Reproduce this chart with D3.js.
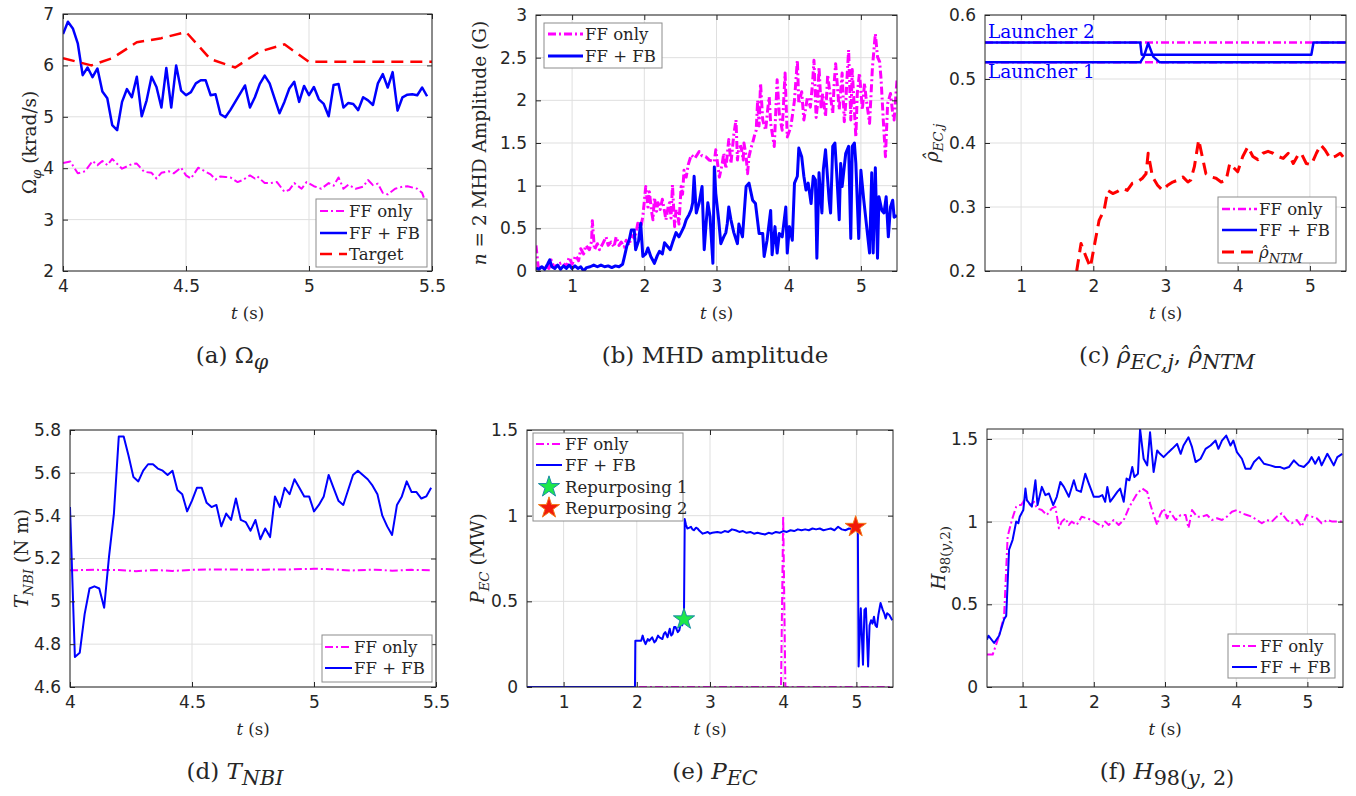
<!DOCTYPE html>
<meta charset="utf-8">
<style>
body { margin: 0; background: #fff; }
text { fill: #262626; }
.tick text { font-family: "DejaVu Sans", Arial, sans-serif; font-size: 17px; fill: #262626; }
.tex { font-family: "DejaVu Serif", "Liberation Serif", serif; }
</style>
<svg width="1356" height="796"></svg>
<script src="https://d3js.org/d3.v7.min.js"></script>
<script>

// ---- data ----
var omegaFB = [6.61,6.85,6.72,6.43,5.81,5.96,5.77,5.94,5.49,5.36,4.84,4.74,5.29,5.54,5.38,5.78,5.01,5.32,5.78,5.58,
  5.18,5.95,5.18,6.0,5.51,5.42,5.48,5.65,5.71,5.71,5.42,5.44,5.05,4.99,5.13,5.29,5.45,5.61,5.18,5.38,
  5.64,5.8,5.65,5.36,5.07,5.29,5.55,5.68,5.29,5.6,5.42,5.58,5.34,5.25,5.01,5.62,5.64,5.18,5.27,5.25,
  5.13,5.38,5.32,5.23,5.65,5.83,5.57,5.87,5.12,5.38,5.43,5.44,5.42,5.57,5.40];
var omegaFF = [[4.0,4.10],[4.03,4.13],[4.06,3.90],[4.09,3.94],[4.12,4.14],[4.14,4.06],[4.16,4.14],[4.18,4.06],[4.2,4.18],[4.24,3.99],[4.28,4.08],[4.3,4.09],[4.33,3.93],[4.36,3.91],[4.38,3.80],[4.4,3.91],[4.43,3.94],[4.45,3.90],[4.48,4.01],[4.5,3.86],[4.52,3.80],[4.55,4.01],[4.58,3.93],[4.6,3.88],[4.62,3.78],[4.64,3.84],[4.66,3.83],[4.68,3.82],[4.71,3.73],[4.73,3.77],[4.76,3.86],[4.78,3.80],[4.79,3.84],[4.82,3.71],[4.84,3.71],[4.87,3.73],[4.9,3.54],[4.92,3.58],[4.94,3.71],[4.97,3.60],[4.99,3.73],[5.02,3.65],[5.05,3.60],[5.08,3.71],[5.1,3.66],[5.12,3.82],[5.14,3.60],[5.16,3.68],[5.19,3.60],[5.22,3.64],[5.24,3.77],[5.26,3.67],[5.28,3.70],[5.3,3.52],[5.32,3.49],[5.35,3.60],[5.38,3.64],[5.4,3.65],[5.44,3.60],[5.46,3.52],[5.47,3.38]];
var omegaTarget = [[4.0,6.14],[4.115,6.0],[4.2,6.14],[4.3,6.45],[4.4,6.53],[4.5,6.65],[4.6,6.12],[4.7,5.96],[4.8,6.27],[4.9,6.41],[5.0,6.07],[5.5,6.07]];

var mhdFF = [[0.5,0.30],[0.53,0.05],[0.58,0.02],[0.63,0.06],[0.68,0.03],[0.71,0.13],[0.75,0.04],[0.8,0.08],[0.87,0.10],[0.92,0.05],[0.96,0.16],[1.0,0.08],[1.05,0.18],[1.09,0.12],[1.12,0.26],[1.16,0.2],[1.19,0.30],[1.24,0.25],[1.27,0.35],[1.28,0.59],[1.31,0.25],[1.35,0.32],[1.38,0.25],[1.43,0.33],[1.47,0.40],[1.5,0.3],[1.54,0.34],[1.58,0.28],[1.61,0.40],[1.65,0.3],[1.68,0.34],[1.72,0.28],[1.75,0.36],[1.79,0.3],[1.82,0.42],[1.87,0.38],[1.91,0.56],[1.95,0.5],[1.98,0.64],[2.02,0.99],[2.05,0.75],[2.07,0.93],[2.1,0.7],[2.12,0.6],[2.14,0.86],[2.17,0.7],[2.19,0.8],[2.22,0.72],[2.25,0.84],[2.28,0.7],[2.30,0.6],[2.33,0.75],[2.35,0.8],[2.37,0.62],[2.39,1.01],[2.42,0.52],[2.44,0.72],[2.46,0.68],[2.48,0.55],[2.51,0.99],[2.53,0.9],[2.55,1.18],[2.58,1.1],[2.61,1.25],[2.65,1.36],[2.7,1.32],[2.76,1.4],[2.8,1.35],[2.85,1.34],[2.9,1.3],[2.97,1.28],[2.99,1.42],[3.04,1.1],[3.08,1.26],[3.1,1.38],[3.13,1.2],[3.17,1.54],[3.2,1.26],[3.24,1.6],[3.27,1.77],[3.29,1.3],[3.31,1.45],[3.34,1.46],[3.37,1.3],[3.38,1.5],[3.41,1.35],[3.43,1.14],[3.45,1.34],[3.48,1.45],[3.5,1.5],[3.53,1.6],[3.55,1.65],[3.57,2.0],[3.59,1.7],[3.61,2.2],[3.64,1.77],[3.68,1.65],[3.71,1.9],[3.73,2.04],[3.75,1.73],[3.8,1.46],[3.84,2.24],[3.87,1.84],[3.91,1.65],[3.95,2.32],[3.98,1.57],[4.03,1.69],[4.08,2.0],[4.12,2.47],[4.14,1.96],[4.18,2.1],[4.21,1.77],[4.26,2.04],[4.3,1.92],[4.33,2.2],[4.35,2.47],[4.38,1.8],[4.4,1.96],[4.42,2.39],[4.45,1.9],[4.47,2.08],[4.51,1.81],[4.54,2.3],[4.56,2.16],[4.61,1.85],[4.63,2.2],[4.65,2.43],[4.7,1.89],[4.72,2.1],[4.74,2.32],[4.77,1.75],[4.79,1.96],[4.81,2.3],[4.83,2.59],[4.86,1.77],[4.88,2.36],[4.93,1.57],[4.95,2.08],[4.98,2.32],[5.02,1.89],[5.05,2.2],[5.07,2.04],[5.12,1.73],[5.16,2.39],[5.2,2.78],[5.23,2.51],[5.26,2.45],[5.28,2.24],[5.31,1.77],[5.34,1.34],[5.37,1.96],[5.41,2.08],[5.44,1.85],[5.46,1.77],[5.5,2.24]];
var mhdFB = [[0.5,0.035],[0.54,0.02],[0.58,0.05],[0.62,0.02],[0.66,0.08],[0.69,0.13],[0.72,0.05],[0.76,0.03],[0.8,0.07],[0.84,0.02],[0.88,0.06],[0.92,0.03],[0.96,0.07],[1.0,0.03],[1.04,0.06],[1.08,0.03],[1.12,0.05],[1.16,0.0],[1.2,0.04],[1.25,0.05],[1.3,0.07],[1.35,0.05],[1.4,0.07],[1.45,0.05],[1.5,0.06],[1.55,0.04],[1.6,0.06],[1.65,0.05],[1.7,0.08],[1.72,0.15],[1.76,0.3],[1.79,0.36],[1.82,0.48],[1.86,0.48],[1.88,0.25],[1.92,0.35],[1.95,0.56],[1.98,0.17],[2.02,0.2],[2.05,0.27],[2.09,0.17],[2.14,0.09],[2.18,0.18],[2.21,0.23],[2.25,0.2],[2.28,0.33],[2.32,0.29],[2.36,0.25],[2.39,0.33],[2.44,0.45],[2.48,0.4],[2.51,0.45],[2.55,0.52],[2.58,0.6],[2.62,0.66],[2.65,0.72],[2.67,0.8],[2.69,1.11],[2.72,0.68],[2.76,0.8],[2.8,0.99],[2.83,0.25],[2.86,0.6],[2.88,0.8],[2.91,0.64],[2.95,0.09],[2.97,1.22],[2.99,0.91],[3.03,0.6],[3.06,0.32],[3.1,0.4],[3.13,0.45],[3.15,0.56],[3.17,0.75],[3.2,0.6],[3.24,0.45],[3.29,0.32],[3.31,0.55],[3.36,0.4],[3.41,0.99],[3.45,1.03],[3.5,0.83],[3.54,0.79],[3.59,0.44],[3.64,0.44],[3.66,0.17],[3.7,0.36],[3.75,0.71],[3.77,0.19],[3.81,0.52],[3.84,0.21],[3.87,0.44],[3.91,0.4],[3.96,0.75],[3.98,0.21],[4.01,0.52],[4.05,0.36],[4.08,1.03],[4.12,1.11],[4.14,1.44],[4.18,1.34],[4.21,1.11],[4.24,0.95],[4.27,1.03],[4.31,0.79],[4.34,1.11],[4.37,1.07],[4.39,0.15],[4.42,1.15],[4.46,0.68],[4.48,1.19],[4.51,1.42],[4.56,0.83],[4.58,0.68],[4.61,1.46],[4.64,1.5],[4.67,1.07],[4.7,0.6],[4.72,1.26],[4.74,0.99],[4.79,1.38],[4.83,1.46],[4.86,0.38],[4.88,1.46],[4.91,1.5],[4.93,1.26],[4.97,0.38],[5.0,1.18],[5.04,0.83],[5.09,0.44],[5.12,0.21],[5.15,1.15],[5.17,0.21],[5.2,1.21],[5.23,0.15],[5.25,0.87],[5.29,0.71],[5.32,0.68],[5.35,0.87],[5.38,0.4],[5.41,0.75],[5.44,0.83],[5.46,0.63],[5.5,0.65]];

var launcher2FF = [[0.5,0.557],[5.5,0.557]];
var launcher1FF = [[0.5,0.526],[5.5,0.526]];
var launcher2FB = [[0.5,0.557],[2.65,0.557],[2.67,0.538],[5.02,0.538],[5.05,0.557],[5.5,0.557]];
var launcher1FB = [[0.5,0.526],[2.65,0.526],[2.7,0.535],[2.76,0.556],[2.83,0.535],[2.92,0.526],[5.5,0.526]];
var rhoNTM = [[1.77,0.2],[1.83,0.243],[1.9,0.222],[1.96,0.206],[2.01,0.237],[2.08,0.279],[2.15,0.295],[2.2,0.326],[2.27,0.321],[2.33,0.324],[2.4,0.329],[2.47,0.326],[2.54,0.337],[2.61,0.339],[2.68,0.345],[2.73,0.352],[2.76,0.384],[2.82,0.347],[2.89,0.334],[2.96,0.326],[3.03,0.334],[3.1,0.339],[3.17,0.342],[3.24,0.347],[3.31,0.339],[3.35,0.342],[3.4,0.363],[3.46,0.405],[3.52,0.373],[3.56,0.352],[3.63,0.347],[3.7,0.345],[3.77,0.339],[3.84,0.342],[3.89,0.368],[3.93,0.363],[4.0,0.355],[4.07,0.379],[4.14,0.394],[4.21,0.379],[4.28,0.374],[4.35,0.384],[4.42,0.387],[4.49,0.384],[4.56,0.379],[4.63,0.376],[4.7,0.384],[4.77,0.368],[4.84,0.382],[4.88,0.384],[4.95,0.368],[5.02,0.366],[5.09,0.384],[5.15,0.397],[5.21,0.389],[5.28,0.376],[5.35,0.379],[5.42,0.384],[5.51,0.371]];

var torqueFB = [5.44,4.74,4.76,4.94,5.06,5.07,5.06,4.97,5.21,5.41,5.77,5.77,5.68,5.58,5.56,5.61,5.64,5.64,5.62,5.61,
  5.59,5.61,5.52,5.50,5.42,5.47,5.53,5.53,5.46,5.44,5.45,5.35,5.41,5.38,5.48,5.38,5.37,5.33,5.38,5.29,
  5.34,5.30,5.49,5.44,5.53,5.50,5.57,5.53,5.49,5.49,5.42,5.45,5.49,5.59,5.53,5.47,5.45,5.52,5.59,5.61,
  5.59,5.57,5.54,5.50,5.40,5.35,5.31,5.45,5.49,5.56,5.51,5.51,5.48,5.49,5.53];
var torqueFF = [[4.0,5.145],[4.1,5.147],[4.2,5.146],[4.27,5.141],[4.35,5.146],[4.42,5.142],[4.5,5.147],[4.6,5.149],[4.7,5.148],[4.8,5.148],[4.9,5.149],[5.0,5.152],[5.05,5.151],[5.15,5.144],[5.25,5.148],[5.32,5.143],[5.4,5.147],[5.48,5.145]];

var pecFB = [[0.5,0],[1.975,0],[1.98,0.27],[2.02,0.27],[2.06,0.27],[2.08,0.30],[2.1,0.27],[2.12,0.25],[2.15,0.28],[2.17,0.27],[2.21,0.29],[2.24,0.26],[2.26,0.27],[2.29,0.30],[2.31,0.29],[2.35,0.28],[2.37,0.31],[2.39,0.32],[2.42,0.29],[2.45,0.34],[2.47,0.30],[2.49,0.31],[2.51,0.35],[2.53,0.35],[2.56,0.32],[2.58,0.33],[2.6,0.37],[2.62,0.36],[2.645,0.45],[2.655,0.98],[2.67,0.95],[2.69,0.925],[2.72,0.93],[2.74,0.935],[2.76,0.92],[2.78,0.915],[2.81,0.93],[2.83,0.925],[2.86,0.91],[2.9,0.895],[2.94,0.9],[2.97,0.905],[3.0,0.895],[3.03,0.9],[3.1,0.905],[3.15,0.9],[3.2,0.91],[3.25,0.905],[3.3,0.92],[3.35,0.915],[3.4,0.905],[3.45,0.91],[3.5,0.9],[3.55,0.905],[3.6,0.895],[3.65,0.9],[3.7,0.895],[3.75,0.89],[3.8,0.9],[3.85,0.895],[3.9,0.905],[3.95,0.9],[4.0,0.91],[4.05,0.905],[4.1,0.915],[4.15,0.91],[4.2,0.92],[4.25,0.915],[4.3,0.92],[4.35,0.915],[4.4,0.925],[4.45,0.92],[4.5,0.925],[4.55,0.915],[4.6,0.92],[4.65,0.925],[4.7,0.915],[4.75,0.935],[4.8,0.92],[4.85,0.915],[4.9,0.925],[4.95,0.92],[5.0,0.935],[5.02,0.9],[5.03,0.12],[5.06,0.46],[5.09,0.13],[5.11,0.45],[5.13,0.46],[5.16,0.12],[5.18,0.36],[5.2,0.39],[5.22,0.37],[5.24,0.41],[5.26,0.36],[5.28,0.35],[5.3,0.42],[5.33,0.49],[5.36,0.45],[5.38,0.43],[5.4,0.40],[5.42,0.43],[5.45,0.42],[5.49,0.39]];
var pecFF = [[0.5,0],[3.97,0],[4.0,1.0],[4.03,0],[5.5,0]];
var repurpose1 = [2.645, 0.395];
var repurpose2 = [4.99, 0.935];

var h98FB = [[0.5,0.286],[0.52,0.31],[0.6,0.266],[0.67,0.31],[0.74,0.41],[0.77,0.43],[0.81,0.83],[0.86,0.89],[0.91,1.0],[0.94,0.99],[0.96,1.03],[1.01,1.07],[1.04,1.2],[1.06,1.13],[1.13,1.09],[1.18,1.25],[1.21,1.10],[1.27,1.21],[1.32,1.16],[1.37,1.17],[1.43,1.10],[1.48,1.15],[1.53,1.24],[1.58,1.21],[1.65,1.15],[1.72,1.25],[1.76,1.19],[1.82,1.18],[1.88,1.29],[1.93,1.23],[2.0,1.15],[2.07,1.15],[2.12,1.16],[2.16,1.12],[2.19,1.21],[2.23,1.12],[2.28,1.15],[2.33,1.18],[2.37,1.20],[2.42,1.12],[2.46,1.26],[2.5,1.25],[2.54,1.33],[2.57,1.27],[2.62,1.29],[2.65,1.56],[2.7,1.38],[2.75,1.34],[2.79,1.54],[2.84,1.30],[2.89,1.43],[2.93,1.41],[2.98,1.39],[3.05,1.42],[3.1,1.44],[3.17,1.47],[3.22,1.41],[3.26,1.46],[3.33,1.51],[3.38,1.45],[3.43,1.36],[3.5,1.38],[3.57,1.44],[3.64,1.46],[3.71,1.49],[3.75,1.44],[3.8,1.49],[3.86,1.52],[3.92,1.46],[3.96,1.49],[4.01,1.42],[4.08,1.38],[4.13,1.32],[4.2,1.32],[4.25,1.36],[4.32,1.39],[4.39,1.35],[4.48,1.34],[4.55,1.33],[4.62,1.33],[4.67,1.32],[4.74,1.33],[4.81,1.37],[4.88,1.34],[4.95,1.33],[5.02,1.36],[5.06,1.39],[5.11,1.35],[5.16,1.39],[5.2,1.34],[5.28,1.41],[5.32,1.38],[5.37,1.34],[5.42,1.39],[5.49,1.41]];
var h98FF = [[0.5,0.196],[0.58,0.196],[0.67,0.31],[0.74,0.43],[0.79,0.91],[0.85,1.01],[0.91,1.09],[0.94,1.10],[0.98,1.10],[1.04,1.14],[1.11,1.10],[1.16,1.12],[1.2,1.08],[1.27,1.07],[1.34,1.04],[1.41,1.08],[1.46,1.09],[1.51,0.96],[1.55,1.0],[1.6,1.02],[1.65,0.98],[1.69,1.0],[1.76,0.98],[1.83,1.03],[1.9,1.02],[1.97,1.01],[2.04,0.99],[2.12,0.97],[2.16,1.0],[2.21,0.98],[2.28,1.01],[2.35,0.98],[2.42,1.01],[2.49,1.08],[2.54,1.12],[2.61,1.17],[2.68,1.2],[2.75,1.18],[2.79,1.11],[2.84,1.04],[2.89,0.98],[2.93,1.04],[2.98,1.08],[3.03,1.02],[3.07,1.06],[3.15,1.01],[3.22,1.04],[3.29,1.04],[3.33,0.96],[3.38,1.07],[3.45,1.03],[3.52,1.03],[3.59,1.04],[3.66,1.01],[3.73,1.02],[3.8,1.01],[3.87,1.03],[3.94,1.06],[4.01,1.07],[4.08,1.05],[4.15,1.04],[4.22,1.03],[4.29,1.01],[4.36,0.99],[4.43,1.01],[4.5,1.0],[4.57,1.03],[4.64,1.05],[4.71,1.01],[4.78,0.99],[4.85,1.01],[4.92,0.97],[4.99,1.04],[5.06,1.03],[5.13,1.02],[5.2,0.99],[5.28,1.01],[5.35,1.0],[5.42,1.0],[5.49,1.0]];

var ticksA = [4, 4.5, 5, 5.5];
var ticksB = [1, 2, 3, 4, 5];

// time base for the regularly sampled series
var tFast = d3.range(75).map(function(i) { return 4 + i * 0.02; });
function zipT(vals) { return vals.map(function(v, i) { return [tFast[i], v]; }); }

var MAG = "#ff00ff", BLU = "#0000ff", RED = "#ff0000";
var DASHDOT = "8,3,2,3", DASH = "12,7";

var svg = d3.select("svg");

// rich text: parts [{t, i (italic), sub}]; subscript scale k
function rich(sel, parts, size, k) {
  var shift = 0;
  k = k || 0.72;
  parts.forEach(function(p) {
    var ts = sel.append("tspan").text(p.t);
    var want = p.sub ? size * 0.28 : 0;
    if (want !== shift) { ts.attr("dy", want - shift); shift = want; }
    if (p.i) ts.style("font-style", "italic");
    if (p.sub) ts.style("font-size", (size * k) + "px");
  });
  return sel;
}

var rhoHat = {t:"ρ\u0302", i:1};

var panels = [
  {x0:63, x1:432, y0:14, y1:271, xd:[4,5.5], yd:[2,7], xt:ticksA, yt:[2,3,4,5,6,7], yf:d3.format("d"),
   ylab:[{t:"Ω"},{t:"φ",i:1,sub:1},{t:" (krad/s)"}], ylx:36, cap:[{t:"(a) Ω"},{t:"φ",i:1,sub:1}], capx:232,
   series:[
     {d:omegaFF, c:MAG, w:2, dash:DASHDOT},
     {d:zipT(omegaFB), c:BLU, w:2.5},
     {d:omegaTarget, c:RED, w:2.5, dash:DASH}],
   leg:{x:316, y:199, w:111, h:68, rows:[211,233,254], lx:[320,347], tx:349, items:[
     {lab:[{t:"FF only"}], c:MAG, w:2, dash:DASHDOT},
     {lab:[{t:"FF + FB"}], c:BLU, w:2.5},
     {lab:[{t:"Target"}], c:RED, w:2.5, dash:DASH}]}},
  {x0:536, x1:897, y0:15, y1:271, xd:[0.5,5.5], yd:[0,3], xt:ticksB, yt:[0,0.5,1,1.5,2,2.5,3], yf:d3.format("~g"),
   ylab:[{t:"n",i:1},{t:" = 2 MHD Amplitude (G)"}], ylx:486, cap:[{t:"(b) MHD amplitude"}], capx:715,
   series:[
     {d:mhdFF, c:MAG, w:3, dash:DASHDOT},
     {d:mhdFB, c:BLU, w:3}],
   leg:{x:544, y:23, w:118, h:45, rows:[34,56], lx:[548,583], tx:585, items:[
     {lab:[{t:"FF only"}], c:MAG, w:3, dash:DASHDOT},
     {lab:[{t:"FF + FB"}], c:BLU, w:3}]}},
  {x0:985, x1:1346, y0:15, y1:271, xd:[0.5,5.5], yd:[0.2,0.6], xt:ticksB, yt:[0.2,0.3,0.4,0.5,0.6], yf:d3.format(".1f"),
   ylab:[rhoHat,{t:"EC,j",i:1,sub:1}], ylx:938, cap:[{t:"(c) "},rhoHat,{t:"EC,j",i:1,sub:1},{t:", "},rhoHat,{t:"NTM",i:1,sub:1}], capx:1167,
   series:[
     {d:launcher2FF, c:MAG, w:2.5, dash:DASHDOT},
     {d:launcher1FF, c:MAG, w:2.5, dash:DASHDOT},
     {d:launcher2FB, c:BLU, w:2.5},
     {d:launcher1FB, c:BLU, w:2.5},
     {d:rhoNTM, c:RED, w:3, dash:DASH}],
   notes:[{t:"Launcher 2", x:988, y:38}, {t:"Launcher 1", x:988, y:78}],
   leg:{x:1218, y:197, w:118, h:66, rows:[209,230,252], lx:[1222,1257], tx:1259, items:[
     {lab:[{t:"FF only"}], c:MAG, w:2.5, dash:DASHDOT},
     {lab:[{t:"FF + FB"}], c:BLU, w:2.5},
     {lab:[rhoHat,{t:"NTM",i:1,sub:1}], c:RED, w:3, dash:DASH}]}},
  {x0:70, x1:436, y0:430, y1:687, xd:[4,5.5], yd:[4.6,5.8], xt:ticksA, yt:[4.6,4.8,5,5.2,5.4,5.6,5.8], yf:d3.format("~g"),
   ylab:[{t:"T",i:1},{t:"NBI",i:1,sub:1},{t:" (N m)"}], ylx:28, cap:[{t:"(d) "},{t:"T",i:1},{t:"NBI",i:1,sub:1}], capx:235,
   series:[
     {d:torqueFF, c:MAG, w:2, dash:DASHDOT},
     {d:zipT(torqueFB), c:BLU, w:2}],
   leg:{x:322, y:635, w:110, h:47, rows:[647,668], lx:[325,352], tx:354, items:[
     {lab:[{t:"FF only"}], c:MAG, w:2, dash:DASHDOT},
     {lab:[{t:"FF + FB"}], c:BLU, w:2}]}},
  {x0:527, x1:893, y0:430, y1:687, xd:[0.5,5.5], yd:[0,1.5], xt:ticksB, yt:[0,0.5,1,1.5], yf:d3.format("~g"),
   ylab:[{t:"P",i:1},{t:"EC",i:1,sub:1},{t:" (MW)"}], ylx:484, cap:[{t:"(e) "},{t:"P",i:1},{t:"EC",i:1,sub:1}], capx:715,
   series:[
     {d:pecFF, c:MAG, w:2, dash:DASHDOT},
     {d:pecFB, c:BLU, w:2}],
   stars:[{p:repurpose1, fill:"#1ee84a", stroke:"#1c8ca8"}, {p:repurpose2, fill:"#f21a0a", stroke:"#f27a1a"}],
   leg:{x:533, y:433, w:150, h:88, rows:[444,465,487,508], lx:[536,562], tx:565, items:[
     {lab:[{t:"FF only"}], c:MAG, w:2, dash:DASHDOT},
     {lab:[{t:"FF + FB"}], c:BLU, w:2},
     {lab:[{t:"Repurposing 1"}], star:{fill:"#1ee84a", stroke:"#1c8ca8"}},
     {lab:[{t:"Repurposing 2"}], star:{fill:"#f21a0a", stroke:"#f27a1a"}}]}},
  {x0:987, x1:1343, y0:429, y1:687, xd:[0.5,5.5], yd:[0,1.56], xt:ticksB, yt:[0,0.5,1,1.5], yf:d3.format("~g"),
   ylab:[{t:"H",i:1},{t:"98(",sub:1},{t:"y",i:1,sub:1},{t:",2)",sub:1}], ylx:945, cap:[{t:"(f) "},{t:"H",i:1},{t:"98(",sub:1},{t:"y",i:1,sub:1},{t:", 2)",sub:1}], capx:1167,
   series:[
     {d:h98FF, c:MAG, w:2, dash:DASHDOT},
     {d:h98FB, c:BLU, w:2}],
   leg:{x:1228, y:634, w:107, h:44, rows:[646,667], lx:[1232,1257], tx:1260, items:[
     {lab:[{t:"FF only"}], c:MAG, w:2, dash:DASHDOT},
     {lab:[{t:"FF + FB"}], c:BLU, w:2}]}}
];

var star = d3.symbol().type(d3.symbolStar).size(140);

panels.forEach(function(p, k) {
  var x = d3.scaleLinear().domain(p.xd).range([p.x0, p.x1]);
  var y = d3.scaleLinear().domain(p.yd).range([p.y1, p.y0]);
  var g = svg.append("g");
  var w = p.x1 - p.x0, h = p.y1 - p.y0;

  g.append("clipPath").attr("id", "clip" + k)
    .append("rect").attr("x", p.x0).attr("y", p.y0).attr("width", w).attr("height", h);

  // grid
  g.append("g").selectAll("line").data(p.xt).enter().append("line")
    .attr("x1", x).attr("x2", x).attr("y1", p.y0).attr("y2", p.y1)
    .attr("stroke", "#dfdfdf");
  g.append("g").selectAll("line").data(p.yt).enter().append("line")
    .attr("y1", y).attr("y2", y).attr("x1", p.x0).attr("x2", p.x1)
    .attr("stroke", "#dfdfdf");

  // series
  var line = d3.line().x(function(d) { return x(d[0]); }).y(function(d) { return y(d[1]); });
  var sg = g.append("g").attr("clip-path", "url(#clip" + k + ")");
  p.series.forEach(function(s) {
    sg.append("path").attr("d", line(s.d))
      .attr("fill", "none").attr("stroke", s.c).attr("stroke-width", s.w)
      .attr("stroke-linejoin", "round")
      .attr("stroke-dasharray", s.dash || null);
  });
  (p.stars || []).forEach(function(s) {
    g.append("path").attr("d", star)
      .attr("transform", "translate(" + x(s.p[0]) + "," + y(s.p[1]) + ")")
      .attr("fill", s.fill).attr("stroke", s.stroke).attr("stroke-width", 1);
  });

  // axes (box with inward ticks on all sides)
  g.append("g").attr("transform", "translate(0," + p.y1 + ")")
    .call(d3.axisBottom(x).tickValues(p.xt).tickFormat(d3.format("~g")).tickSizeInner(-5).tickSizeOuter(0).tickPadding(9));
  g.append("g").attr("transform", "translate(" + p.x0 + ",0)")
    .call(d3.axisLeft(y).tickValues(p.yt).tickFormat(p.yf).tickSizeInner(-5).tickSizeOuter(0).tickPadding(9));
  g.append("g").attr("transform", "translate(0," + p.y0 + ")")
    .call(d3.axisTop(x).tickValues(p.xt).tickFormat("").tickSizeInner(-5).tickSizeOuter(0));
  g.append("g").attr("transform", "translate(" + p.x1 + ",0)")
    .call(d3.axisRight(y).tickValues(p.yt).tickFormat("").tickSizeInner(-5).tickSizeOuter(0));
  g.selectAll(".domain").remove();
  g.selectAll(".tick line").attr("stroke", "#262626");
  g.append("rect").attr("x", p.x0).attr("y", p.y0).attr("width", w).attr("height", h)
    .attr("fill", "none").attr("stroke", "#262626").attr("stroke-width", 1);

  // annotations
  (p.notes || []).forEach(function(n) {
    g.append("text").attr("class", "tex").attr("x", n.x).attr("y", n.y)
      .style("font-size", "18.5px").style("fill", BLU).text(n.t);
  });

  // labels
  var xl = g.append("text").attr("class", "tex").attr("x", (p.x0 + p.x1) / 2).attr("y", p.y1 + 48)
    .attr("text-anchor", "middle").style("font-size", "16.5px");
  rich(xl, [{t:"t", i:1}, {t:" (s)"}], 16.5);
  var yl = g.append("text").attr("class", "tex").attr("text-anchor", "middle")
    .attr("transform", "translate(" + p.ylx + "," + (p.y0 + p.y1) / 2 + ") rotate(-90)")
    .style("font-size", "18.5px");
  rich(yl, p.ylab, 18.5, 0.72);
  var cp = g.append("text").attr("class", "tex").attr("x", p.capx).attr("y", p.y1 + 92)
    .attr("text-anchor", "middle").style("font-size", "23px");
  rich(cp, p.cap, 23, 0.9);

  // legend
  var L = p.leg;
  var lg = g.append("g");
  lg.append("rect").attr("x", L.x).attr("y", L.y).attr("width", L.w).attr("height", L.h)
    .attr("fill", "#fff").attr("stroke", "#8c8c8c");
  L.items.forEach(function(it, j) {
    var ry = L.rows[j];
    if (it.star) {
      lg.append("path").attr("d", star)
        .attr("transform", "translate(" + (L.lx[0] + L.lx[1]) / 2 + "," + ry + ")")
        .attr("fill", it.star.fill).attr("stroke", it.star.stroke);
    } else {
      lg.append("line").attr("x1", L.lx[0]).attr("x2", L.lx[1]).attr("y1", ry).attr("y2", ry)
        .attr("stroke", it.c).attr("stroke-width", it.w).attr("stroke-dasharray", it.dash || null);
    }
    var t = lg.append("text").attr("class", "tex").attr("x", L.tx).attr("y", ry + 6)
      .style("font-size", "16.5px");
    rich(t, it.lab, 16.5, 0.8);
  });
});

</script>
